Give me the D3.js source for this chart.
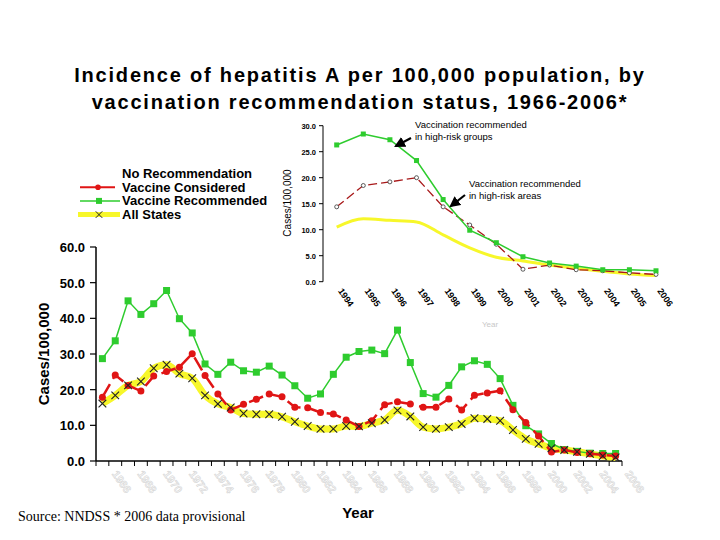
<!DOCTYPE html>
<html lang="en">
<head>
<meta charset="utf-8">
<title>Hepatitis A incidence</title>
<style type="text/css">
  body { margin: 0; background: #fff; }
  svg { display: block; font-family: "Liberation Sans", Arial, sans-serif; }
</style>
</head>
<body>
<script src="https://cdn.jsdelivr.net/npm/d3@7"></script>
<script>

var w = 720;
var h = 540;

// main chart data, 1966-2006
var years = d3.range(1966, 2007);
var vaccineRecommended = [28.7, 33.7, 44.9, 41.1, 44.1, 47.8, 39.9, 35.9, 27.2, 24.3,
    27.7, 25.3, 24.9, 26.6, 24.1, 21.1, 17.6, 18.8, 24.3, 29.1,
    30.7, 31.1, 30.1, 36.7, 27.6, 18.9, 17.9, 21.2, 26.4, 28.1,
    27.1, 23.1, 15.6, 9.9, 7.6, 4.9, 3.2, 2.7, 2.2, 2.1, 2.1];
var vaccineConsidered = [17.9, 24.1, 21.2, 19.6, 23.8, 25.1, 26.3, 30.1, 24.0, 18.8,
    14.3, 15.9, 17.3, 18.8, 18.0, 15.1, 14.9, 13.6, 13.2, 11.5,
    9.7, 11.3, 15.8, 16.6, 16.0, 15.1, 15.1, 17.4, 14.3, 18.4,
    19.1, 19.7, 14.4, 10.8, 7.0, 2.5, 3.1, 2.4, 2.0, 1.7, 1.4];
var allStates = [16.1, 18.4, 21.2, 22.3, 26.0, 27.0, 24.5, 23.2, 18.4, 16.0,
    15.0, 13.3, 13.1, 13.1, 12.4, 11.0, 9.8, 9.0, 9.0, 9.8,
    9.7, 10.6, 11.5, 14.2, 12.5, 9.5, 9.0, 9.5, 10.4, 12.0,
    11.8, 11.3, 8.7, 6.2, 4.8, 3.6, 3.1, 2.6, 2.0, 1.4, 1.0];
var yTicks = [0, 10, 20, 30, 40, 50, 60];
var xLabelYears = d3.range(1966, 2007, 2);

// inset data, 1994-2006
var insetYears = d3.range(1994, 2007);
var insetRecommended = [26.3, 28.4, 27.3, 23.3, 15.8, 9.9, 7.5, 4.8, 3.6, 3.0, 2.3, 2.3, 2.1];
var insetConsidered = [14.4, 18.5, 19.2, 20.0, 14.4, 10.9, 7.2, 2.4, 3.2, 2.3, 2.1, 1.7, 1.4];
var insetAll = [10.5, 12.1, 11.8, 11.5, 9.0, 6.5, 4.7, 4.0, 3.2, 2.6, 2.0, 1.5, 1.2];
var insetTicks = [0, 5, 10, 15, 20, 25, 30];

var titleLines = ["Incidence of hepatitis A per 100,000 population, by",
    "vaccination recommendation status, 1966-2006*"];
var legendNames = ["No Recommendation", "Vaccine Considered", "Vaccine Recommended", "All States"];

var green = "#2ecc2e";
var red = "#e01515";
var yellow = "#f7f72a";

var svg = d3.select("body")
        .append("svg")
        .attr("width", w)
        .attr("height", h);

svg.append("defs").append("marker")
    .attr("id", "arrow")
    .attr("viewBox", "0 0 10 10")
    .attr("refX", 8).attr("refY", 5)
    .attr("markerWidth", 5).attr("markerHeight", 5)
    .attr("orient", "auto")
    .append("path")
    .attr("d", "M0,0 L10,5 L0,10 z")
    .attr("fill", "#000");

// title
svg.selectAll("text.title")
    .data(titleLines)
    .enter()
    .append("text")
    .attr("class", "title")
    .attr("x", 360)
    .attr("y", function(d, i) { return 82 + i * 27; })
    .attr("text-anchor", "middle")
    .style("font-size", "20px")
    .style("font-weight", "bold")
    .style("letter-spacing", "1.8px")
    .text(function(d) { return d; });

// ---------- main chart ----------
var x = d3.scaleBand().domain(years).range([96, 622]);
var y = d3.scaleLinear().domain([0, 60]).range([461, 247]);
var cx = function(d, i) { return x(years[i]) + x.bandwidth() / 2; };

var main = svg.append("g");

// y axis
main.append("line")
    .attr("x1", 96).attr("x2", 96)
    .attr("y1", y(60)).attr("y2", y(0))
    .attr("stroke", "#000").attr("stroke-width", 1.5);
main.selectAll("line.ytick")
    .data(yTicks)
    .enter()
    .append("line")
    .attr("class", "ytick")
    .attr("x1", 90).attr("x2", 96)
    .attr("y1", function(d) { return y(d); })
    .attr("y2", function(d) { return y(d); })
    .attr("stroke", "#000").attr("stroke-width", 1.2);
main.selectAll("text.ylab")
    .data(yTicks)
    .enter()
    .append("text")
    .attr("class", "ylab")
    .attr("x", 85)
    .attr("y", function(d) { return y(d) + 5; })
    .attr("text-anchor", "end")
    .style("font-size", "13px")
    .style("font-weight", "bold")
    .text(function(d) { return d.toFixed(1); });

// x axis with ticks at the year edges
main.append("line")
    .attr("x1", 96).attr("x2", 622)
    .attr("y1", y(0)).attr("y2", y(0))
    .attr("stroke", "#000").attr("stroke-width", 1.5);
main.selectAll("line.xtick")
    .data(years.concat([2007]))
    .enter()
    .append("line")
    .attr("class", "xtick")
    .attr("x1", function(d) { return d === 2007 ? 622 : x(d); })
    .attr("x2", function(d) { return d === 2007 ? 622 : x(d); })
    .attr("y1", y(0)).attr("y2", y(0) + 5)
    .attr("stroke", "#000").attr("stroke-width", 1);

// faded year labels
main.selectAll("text.xlab")
    .data(xLabelYears)
    .enter()
    .append("text")
    .attr("class", "xlab")
    .attr("transform", function(d) {
        return "translate(" + (x(d) + x.bandwidth() / 2 + 9) + ",474) rotate(55)";
    })
    .style("font-size", "11px")
    .style("font-weight", "bold")
    .attr("fill", "#f6f6f6")
    .attr("stroke", "#d2d2d2")
    .attr("stroke-width", 0.5)
    .text(function(d) { return d; });

main.append("text")
    .attr("transform", "translate(49,354) rotate(-90)")
    .attr("text-anchor", "middle")
    .style("font-size", "15px")
    .style("font-weight", "bold")
    .text("Cases/100,000");

main.append("text")
    .attr("x", 358).attr("y", 518)
    .attr("text-anchor", "middle")
    .style("font-size", "15px")
    .style("font-weight", "bold")
    .text("Year");

var line = d3.line().x(cx).y(function(d) { return y(d); });

// all states - thick yellow band
main.append("path")
    .datum(allStates)
    .attr("d", line.curve(d3.curveMonotoneX))
    .attr("fill", "none")
    .attr("stroke", yellow)
    .attr("stroke-width", 7)
    .attr("stroke-linejoin", "round");

line.curve(d3.curveLinear);

// vaccine recommended
main.append("path")
    .datum(vaccineRecommended)
    .attr("d", line)
    .attr("fill", "none")
    .attr("stroke", green)
    .attr("stroke-width", 1.5);
main.selectAll("rect.vr")
    .data(vaccineRecommended)
    .enter()
    .append("rect")
    .attr("class", "vr")
    .attr("x", function(d, i) { return cx(d, i) - 3.5; })
    .attr("y", function(d) { return y(d) - 3.5; })
    .attr("width", 7).attr("height", 7)
    .attr("fill", green);

// vaccine considered
main.append("path")
    .datum(vaccineConsidered)
    .attr("d", line)
    .attr("fill", "none")
    .attr("stroke", red)
    .attr("stroke-width", 2.5)
    .attr("stroke-dasharray", "15,6");
main.selectAll("circle.vc")
    .data(vaccineConsidered)
    .enter()
    .append("circle")
    .attr("class", "vc")
    .attr("cx", cx)
    .attr("cy", function(d) { return y(d); })
    .attr("r", 3.5)
    .attr("fill", red);

// all states markers
var cross = d3.symbol().type(d3.symbolTimes || d3.symbolX).size(40);
main.selectAll("path.as")
    .data(allStates)
    .enter()
    .append("path")
    .attr("class", "as")
    .attr("transform", function(d, i) { return "translate(" + cx(d, i) + "," + y(d) + ")"; })
    .attr("d", cross)
    .attr("fill", "none")
    .attr("stroke", "#222")
    .attr("stroke-width", 1.1);

// legend
var legend = svg.append("g");
legend.selectAll("text")
    .data(legendNames)
    .enter()
    .append("text")
    .attr("x", 122)
    .attr("y", function(d, i) { return 178 + i * 13.7; })
    .style("font-size", "13px")
    .style("font-weight", "bold")
    .text(function(d) { return d; });
var legY = function(i) { return 173.5 + i * 13.7; };
legend.append("line").attr("x1", 80).attr("x2", 115).attr("y1", legY(1)).attr("y2", legY(1))
    .attr("stroke", red).attr("stroke-width", 2);
legend.append("circle").attr("cx", 98).attr("cy", legY(1)).attr("r", 2.8).attr("fill", red);
legend.append("line").attr("x1", 80).attr("x2", 120).attr("y1", legY(2)).attr("y2", legY(2))
    .attr("stroke", green).attr("stroke-width", 1.5);
legend.append("rect").attr("x", 96).attr("y", legY(2) - 3).attr("width", 6).attr("height", 6).attr("fill", green);
legend.append("line").attr("x1", 78).attr("x2", 120).attr("y1", legY(3)).attr("y2", legY(3))
    .attr("stroke", yellow).attr("stroke-width", 5);
legend.append("path")
    .attr("transform", "translate(99," + legY(3) + ")")
    .attr("d", d3.symbol().type(d3.symbolTimes || d3.symbolX).size(30))
    .attr("fill", "none").attr("stroke", "#222").attr("stroke-width", 1);

// ---------- inset chart ----------
var ix = d3.scalePoint().domain(insetYears).range([336.7, 656]);
var iy = d3.scaleLinear().domain([0, 30]).range([281.7, 125.7]);
var inset = svg.append("g");
var icx = function(d, i) { return ix(insetYears[i]); };

inset.append("line")
    .attr("x1", 323).attr("x2", 323)
    .attr("y1", iy(30)).attr("y2", iy(0))
    .attr("stroke", "#000").attr("stroke-width", 1);
inset.selectAll("line.itick")
    .data(insetTicks)
    .enter()
    .append("line")
    .attr("class", "itick")
    .attr("x1", 319).attr("x2", 323)
    .attr("y1", function(d) { return iy(d); })
    .attr("y2", function(d) { return iy(d); })
    .attr("stroke", "#000");
inset.selectAll("text.ilab")
    .data(insetTicks)
    .enter()
    .append("text")
    .attr("class", "ilab")
    .attr("x", 316)
    .attr("y", function(d) { return iy(d) + 3; })
    .attr("text-anchor", "end")
    .style("font-size", "7.5px")
    .style("font-weight", "bold")
    .text(function(d) { return d.toFixed(1); });
inset.selectAll("text.ixlab")
    .data(insetYears)
    .enter()
    .append("text")
    .attr("class", "ixlab")
    .attr("transform", function(d) { return "translate(" + (ix(d) + 1) + ",291) rotate(55)"; })
    .style("font-size", "9px")
    .style("font-weight", "bold")
    .text(function(d) { return d; });
inset.append("text")
    .attr("transform", "translate(291,203) rotate(-90)")
    .attr("text-anchor", "middle")
    .style("font-size", "10px")
    .text("Cases/100,000");
inset.append("text")
    .attr("x", 490).attr("y", 327)
    .attr("text-anchor", "middle")
    .style("font-size", "8px")
    .attr("fill", "#c8c8c8")
    .text("Year");

var iline = d3.line().x(icx).y(function(d) { return iy(d); });

inset.append("path")
    .datum(insetAll)
    .attr("d", iline.curve(d3.curveMonotoneX))
    .attr("fill", "none")
    .attr("stroke", yellow)
    .attr("stroke-width", 3);
iline.curve(d3.curveLinear);
inset.append("path")
    .datum(insetConsidered)
    .attr("d", iline)
    .attr("fill", "none")
    .attr("stroke", "#a8191a")
    .attr("stroke-width", 1.3)
    .attr("stroke-dasharray", "9,4");
inset.selectAll("circle.ic")
    .data(insetConsidered)
    .enter()
    .append("circle")
    .attr("class", "ic")
    .attr("cx", icx)
    .attr("cy", function(d) { return iy(d); })
    .attr("r", 2)
    .attr("fill", "#fff")
    .attr("stroke", "#333")
    .attr("stroke-width", 0.8);
inset.append("path")
    .datum(insetRecommended)
    .attr("d", iline)
    .attr("fill", "none")
    .attr("stroke", green)
    .attr("stroke-width", 1.5);
inset.selectAll("rect.ir")
    .data(insetRecommended)
    .enter()
    .append("rect")
    .attr("class", "ir")
    .attr("x", function(d, i) { return icx(d, i) - 2.5; })
    .attr("y", function(d) { return iy(d) - 2.5; })
    .attr("width", 5).attr("height", 5)
    .attr("fill", green);

// annotations
var notes = [
    {lines: ["Vaccination recommended", "in high-risk groups"], tx: 415, ty: 128, ax1: 411, ay1: 138, ax2: 396, ay2: 146},
    {lines: ["Vaccination recommended", "in high-risk areas"], tx: 469, ty: 187, ax1: 465, ay1: 195, ax2: 451, ay2: 206}
];
notes.forEach(function(n) {
    inset.selectAll(null)
        .data(n.lines)
        .enter()
        .append("text")
        .attr("x", n.tx)
        .attr("y", function(d, i) { return n.ty + i * 12; })
        .style("font-size", "9.5px")
        .text(function(d) { return d; });
    inset.append("line")
        .attr("x1", n.ax1).attr("y1", n.ay1)
        .attr("x2", n.ax2).attr("y2", n.ay2)
        .attr("stroke", "#000").attr("stroke-width", 2.2)
        .attr("marker-end", "url(#arrow)");
});

// source note
svg.append("text")
    .attr("x", 18).attr("y", 521)
    .style("font-family", "'Liberation Serif', 'Times New Roman', serif")
    .style("font-size", "14px")
    .text("Source: NNDSS * 2006 data provisional");

</script>
</body>
</html>
